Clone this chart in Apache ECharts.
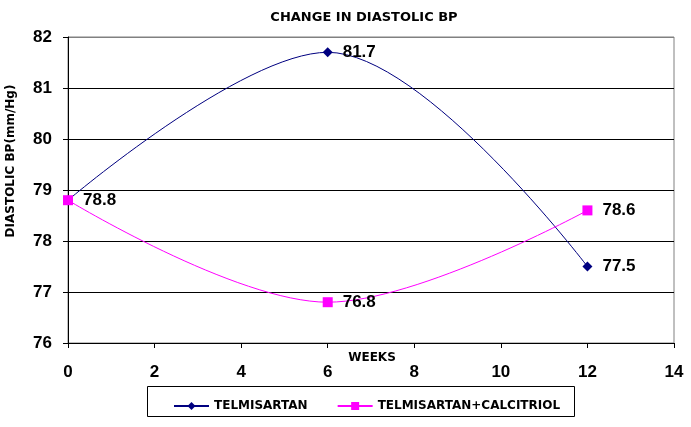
<!DOCTYPE html>
<html>
<head>
<meta charset="utf-8">
<script src="https://cdn.jsdelivr.net/npm/echarts@6/dist/echarts.min.js"></script>
<style>html,body{margin:0;padding:0;background:#fff}#c{width:691px;height:427px}</style>
</head>
<body>
<div id="c"></div>
<script>
const weeks = [0, 6, 12];
const telmisartan = [78.8, 81.7, 77.5];
const telmiCalcitriol = [78.8, 76.8, 78.6];
const seriesNames = ['TELMISARTAN', 'TELMISARTAN+CALCITRIOL'];
const titleText = 'CHANGE IN DIASTOLIC BP';
const yTitle = 'DIASTOLIC BP(mm/Hg)';
const xTitle = 'WEEKS';

const FONT = 'Arial, "Liberation Sans", sans-serif';
const SMALL = '"DejaVu Sans", sans-serif';
const chart = echarts.init(document.getElementById('c'), null, {renderer: 'canvas'});

function pairs(vals) { return weeks.map((w, i) => [w, vals[i]]); }
const lbl = {show: true, position: 'right', distance: 10, color: '#000', fontFamily: FONT, fontWeight: 'bold', fontSize: 17, formatter: p => p.value[1].toFixed(1)};

chart.setOption({
  animation: false,
  backgroundColor: '#fff',
  title: {text: titleText, left: 359, top: 6, textAlign: 'center', textStyle: {fontFamily: SMALL, fontWeight: 'bold', fontSize: 13, color: '#000'}},
  grid: {left: 68, right: 17, top: 37, bottom: 84, show: true, borderColor: '#808080', borderWidth: 1, backgroundColor: 'transparent'},
  xAxis: {
    type: 'value', min: 0, max: 14, interval: 2,
    axisLine: {show: true, lineStyle: {color: '#000', width: 1}},
    axisTick: {show: true, length: 5, lineStyle: {color: '#000'}},
    axisLabel: {color: '#000', fontFamily: FONT, fontWeight: 'bold', fontSize: 17, margin: 21},
    splitLine: {show: false}
  },
  yAxis: {
    type: 'value', min: 76, max: 82, interval: 1,
    axisLine: {show: true, lineStyle: {color: '#000', width: 1}},
    axisTick: {show: true, length: 5, lineStyle: {color: '#000'}},
    axisLabel: {color: '#000', fontFamily: FONT, fontWeight: 'bold', fontSize: 17, margin: 16},
    splitLine: {show: true, lineStyle: {color: ['#000','#000','#000','#000','#000','#000','#808080'], width: 1}}
  },
  legend: {
    data: seriesNames,
    left: 168, top: 395, itemGap: 29, itemWidth: 35, itemHeight: 10,
    textStyle: {fontFamily: SMALL, fontWeight: 'bold', fontSize: 12, color: '#000'}
  },
  graphic: [
    {type: 'rect', shape: {x: 147.5, y: 386.5, width: 427, height: 30}, style: {fill: 'none', stroke: '#000', lineWidth: 1}, z: 0},
    {type: 'text', x: 11, y: 161, rotation: Math.PI / 2, style: {text: yTitle, font: 'bold 12px ' + SMALL, fill: '#000', textAlign: 'center', textVerticalAlign: 'middle'}},
    {type: 'text', x: 372, y: 358, style: {text: xTitle, font: 'bold 12px ' + SMALL, fill: '#000', textAlign: 'center', textVerticalAlign: 'middle'}}
  ],
  series: [
    {
      name: seriesNames[0], type: 'line', smooth: 0.35,
      data: pairs(telmisartan).map((d, i) => i === 0 ? {value: d, label: {show: false}} : d),
      symbol: 'diamond', symbolSize: 10,
      lineStyle: {color: '#000080', width: 1}, itemStyle: {color: '#000080'},
      label: lbl, z: 2
    },
    {
      name: seriesNames[1], type: 'line', smooth: 0.35,
      data: pairs(telmiCalcitriol),
      symbol: 'rect', symbolSize: 10,
      lineStyle: {color: '#FF00FF', width: 1}, itemStyle: {color: '#FF00FF'},
      label: lbl, z: 3
    }
  ]
});
</script>
</body>
</html>
